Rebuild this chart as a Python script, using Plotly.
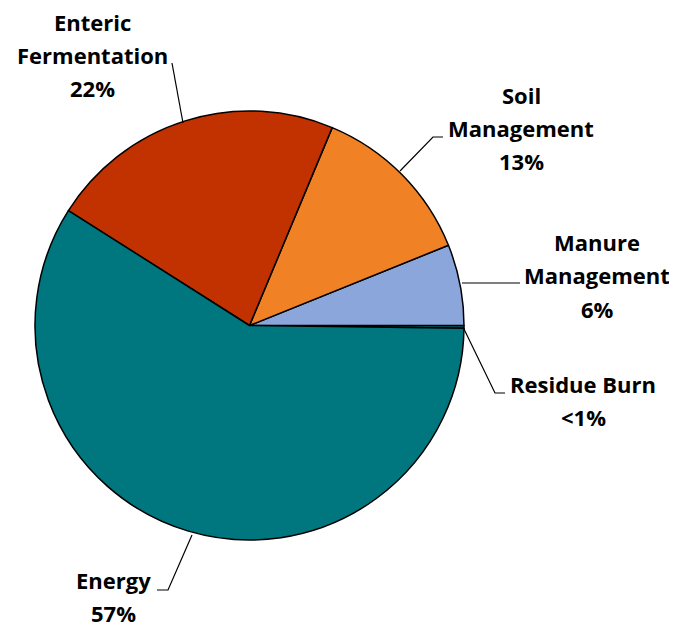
import plotly.graph_objects as go

# Data
categories = ["Residue Burn", "Manure Management", "Soil Management", "Enteric Fermentation", "Energy"]
values = [0.2, 6.1, 12.6, 22.3, 58.8]
label_lines = [
    ["Residue Burn", "<1%"],
    ["Manure", "Management", "6%"],
    ["Soil", "Management", "13%"],
    ["Enteric", "Fermentation", "22%"],
    ["Energy", "57%"],
]
colors = ["#00767E", "#8BA6DA", "#F08124", "#C23100", "#00767E"]

W, H = 677, 625
OFF = 8  # page body margin compensation
cx, cy, r = 249.5, 325.5, 214.5

# label layout (pixel positions: center x, first-line y, line step)
label_pos = [
    (583, 384, 33),
    (597, 242, 33.5),
    (521, 95, 33),
    (92, 22, 33),
    (114, 580, 33),
]
leader_paths = [
    [(463, 327), (495, 393), (505, 393)],
    [(462, 283), (520, 283)],
    [(400, 171), (433, 137), (443, 137)],
    [(183, 123), (172, 63)],
    [(192, 535), (168, 590), (157, 590)],
]

def px(x):
    return (x - OFF) / W

def py(y):
    return 1 - (y - OFF) / H

fig = go.Figure(
    go.Pie(
        labels=categories,
        values=values,
        sort=False,
        direction="counterclockwise",
        rotation=90,
        marker=dict(colors=colors, line=dict(color="black", width=1.5)),
        textinfo="none",
        hoverinfo="label+percent",
        showlegend=False,
        domain=dict(x=[px(cx - r), px(cx + r)], y=[py(cy + r), py(cy - r)]),
    )
)

annotations = []
for lines, (x, y0, step) in zip(label_lines, label_pos):
    for i, t in enumerate(lines):
        annotations.append(
            dict(
                x=px(x), y=py(y0 + i * step), xref="paper", yref="paper",
                text=t, showarrow=False, xanchor="center", yanchor="middle",
                font=dict(family="Open Sans", size=22, color="black", weight="bold"),
            )
        )

shapes = []
for path in leader_paths:
    d = "M " + " L ".join(f"{px(x)},{py(y)}" for x, y in path)
    shapes.append(dict(type="path", path=d, xref="paper", yref="paper",
                       line=dict(color="black", width=1.2)))

fig.update_layout(
    width=W, height=H,
    margin=dict(l=0, r=0, t=0, b=0),
    paper_bgcolor="white", plot_bgcolor="white",
    annotations=annotations, shapes=shapes,
)

fig.write_html("out.html")
